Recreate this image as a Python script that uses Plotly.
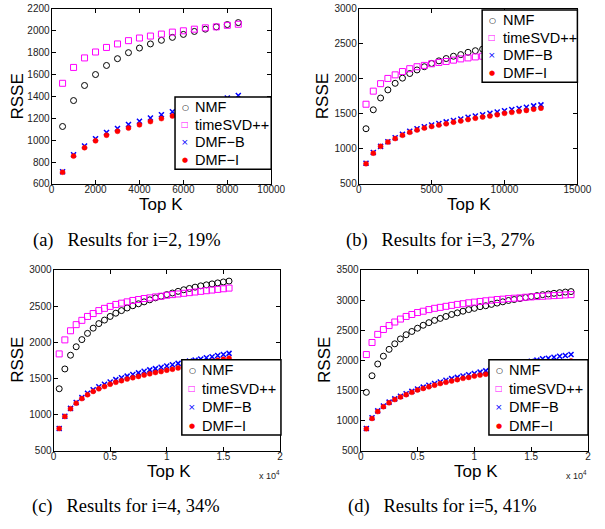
import plotly.graph_objects as go

# ---------------- data ----------------
topk_a = [500, 1000, 1500, 2000, 2500, 3000, 3500, 4000, 4500, 5000, 5500, 6000,
          6500, 7000, 7500, 8000, 8500]
nmf_a = [1125, 1362, 1500, 1600, 1683, 1745, 1800, 1842, 1880, 1913, 1940, 1967,
         1994, 2015, 2036, 2057, 2075]
tsvd_a = [1520, 1665, 1752, 1806, 1848, 1880, 1910, 1934, 1952, 1970, 1988, 2000,
          2015, 2027, 2036, 2050, 2060]
dmfb_a = [710, 866, 946, 1012, 1069, 1107, 1143, 1173, 1203, 1233, 1260, 1285,
          1310, 1333, 1357, 1385, 1408]
dmfi_a = [707, 854, 931, 994, 1045, 1081, 1110, 1140, 1170, 1197, 1221, 1245,
          1268, 1290, 1310, 1330, 1350]

topk_b = [500, 1000, 1500, 2000, 2500, 3000, 3500, 4000, 4500, 5000, 5500, 6000,
          6500, 7000, 7500, 8000, 8500, 9000, 9500, 10000, 10500, 11000, 11500,
          12000, 12500]
nmf_b = [1288, 1559, 1727, 1843, 1937, 2011, 2077, 2128, 2174, 2221, 2258, 2291,
         2324, 2347, 2380, 2403, 2426, 2445, 2465, 2485, 2502, 2520, 2537, 2552, 2567]
tsvd_b = [1638, 1825, 1932, 2007, 2058, 2105, 2146, 2174, 2193, 2216, 2235, 2249,
          2268, 2286, 2300, 2314, 2324, 2335, 2347, 2358, 2368, 2378, 2388, 2397, 2405]
dmfb_b = [794, 948, 1036, 1102, 1158, 1209, 1251, 1288, 1316, 1340, 1363, 1386,
          1405, 1428, 1451, 1470, 1489, 1508, 1526, 1545, 1564, 1577, 1596, 1615, 1629]
dmfi_b = [789, 939, 1036, 1097, 1148, 1195, 1237, 1270, 1298, 1321, 1340, 1358,
          1382, 1400, 1419, 1438, 1456, 1470, 1489, 1508, 1522, 1536, 1550, 1568, 1582]

topk_c = [500, 1000, 1500, 2000, 2500, 3000, 3500, 4000, 4500, 5000, 5500, 6000,
          6500, 7000, 7500, 8000, 8500, 9000, 9500, 10000, 10500, 11000, 11500,
          12000, 12500, 13000, 13500, 14000, 14500, 15000, 15500]
nmf_c = [1356, 1630, 1820, 1937, 2036, 2122, 2194, 2257, 2306, 2356, 2401, 2437,
         2473, 2504, 2531, 2558, 2586, 2613, 2635, 2658, 2680, 2703, 2725, 2743,
         2761, 2779, 2793, 2806, 2820, 2833, 2845]
tsvd_c = [1838, 2032, 2158, 2243, 2302, 2356, 2396, 2437, 2468, 2495, 2522, 2540,
          2558, 2577, 2590, 2604, 2613, 2626, 2635, 2649, 2658, 2667, 2676, 2685,
          2694, 2703, 2712, 2721, 2730, 2739, 2748]
dmfb_c = [806, 977, 1085, 1166, 1234, 1293, 1342, 1383, 1419, 1450, 1482, 1509,
          1531, 1554, 1576, 1599, 1617, 1635, 1653, 1671, 1689, 1707, 1722, 1738,
          1752, 1768, 1784, 1800, 1815, 1830, 1845]
dmfi_c = [806, 973, 1081, 1157, 1220, 1274, 1320, 1356, 1387, 1419, 1446, 1468,
          1491, 1509, 1527, 1545, 1563, 1581, 1594, 1613, 1626, 1645, 1663, 1680,
          1695, 1710, 1724, 1738, 1752, 1765, 1778]

topk_d = [500, 1000, 1500, 2000, 2500, 3000, 3500, 4000, 4500, 5000, 5500, 6000,
          6500, 7000, 7500, 8000, 8500, 9000, 9500, 10000, 10500, 11000, 11500,
          12000, 12500, 13000, 13500, 14000, 14500, 15000, 15500, 16000, 16500,
          17000, 17500, 18000, 18500]
nmf_d = [1468, 1743, 1938, 2068, 2181, 2273, 2354, 2424, 2478, 2532, 2581, 2624,
         2662, 2695, 2727, 2760, 2787, 2814, 2841, 2862, 2889, 2905, 2927, 2949,
         2970, 2992, 3008, 3024, 3041, 3057, 3073, 3089, 3100, 3111, 3122, 3132, 3140]
tsvd_d = [2095, 2295, 2430, 2511, 2576, 2635, 2684, 2727, 2760, 2792, 2814, 2841,
          2862, 2878, 2895, 2911, 2927, 2938, 2954, 2965, 2976, 2987, 2997, 3008,
          3014, 3024, 3030, 3035, 3046, 3051, 3057, 3062, 3068, 3073, 3078, 3084, 3089]
dmfb_d = [868, 1046, 1160, 1241, 1306, 1360, 1403, 1446, 1484, 1522, 1554, 1587,
          1614, 1641, 1668, 1695, 1716, 1738, 1760, 1781, 1803, 1824, 1845, 1866,
          1886, 1906, 1926, 1946, 1966, 1985, 2003, 2024, 2035, 2051, 2068, 2078, 2095]
dmfi_d = [862, 1035, 1149, 1230, 1295, 1349, 1392, 1430, 1468, 1506, 1533, 1560,
          1587, 1614, 1635, 1657, 1679, 1700, 1716, 1738, 1754, 1770, 1786, 1801,
          1816, 1831, 1846, 1861, 1876, 1891, 1905, 1919, 1933, 1947, 1961, 1975, 1989]

methods = ["NMF", "timeSVD++", "DMF\u2212B", "DMF\u2212I"]
captions = ["(a)   Results for i=2, 19%", "(b)   Results for i=3, 27%",
            "(c)   Results for i=4, 34%", "(d)   Results for i=5, 41%"]

# axis ticks per panel
yticks_a = [600, 800, 1000, 1200, 1400, 1600, 1800, 2000, 2200]
yticks_b = [500, 1000, 1500, 2000, 2500, 3000]
yticks_c = [500, 1000, 1500, 2000, 2500, 3000]
yticks_d = [500, 1000, 1500, 2000, 2500, 3000, 3500]
xticks_a = [0, 2000, 4000, 6000, 8000, 10000]
xticktext_a = ["0", "2000", "4000", "6000", "8000", "10000"]
xticks_b = [0, 5000, 10000, 15000]
xticktext_b = ["0", "5000", "10000", "15000"]
xticks_cd = [0, 5000, 10000, 15000, 20000]
xticktext_cd = ["0", "0.5", "1", "1.5", "2"]

# ---------------- styling ----------------
W, H = 605, 529
SANS = "Liberation Sans, Arial, Helvetica, sans-serif"
SERIF = "Liberation Serif, Times New Roman, serif"
GLYPH = "DejaVu Sans, sans-serif"

COLORS = ["black", "#ff00ff", "#0000ff", "#ff0000"]
marker_styles = [
    dict(symbol="circle-open", size=6, color=COLORS[0], line=dict(width=1, color=COLORS[0])),
    dict(symbol="square-open", size=6, color=COLORS[1], line=dict(width=1, color=COLORS[1])),
    dict(symbol="x-thin-open", size=5, color=COLORS[2], line=dict(width=1.5, color=COLORS[2])),
    dict(symbol="circle", size=5, color=COLORS[3], line=dict(width=0.5, color=COLORS[3])),
]
# small key glyphs used inside the boxed legends
key_glyphs = [("\u25cb", 8), ("\u25a1", 8), ("\u00d7", 9), ("\u25cf", 7)]


def px_x(p):
    return p / W


def px_y(p):
    return 1 - p / H


panels = [
    dict(topk=topk_a, series=[nmf_a, tsvd_a, dmfb_a, dmfi_a], x_px=(50, 276), y_px=(3, 182),
         xr=[0, 10000], yr=[600, 2200], xt=xticks_a, xtt=xticktext_a, yt=yticks_a,
         box=(177, 93, 276, 167), cap=(128, 240), exp=None, ylab=(14.5, 92.5), xlab=(163, 203)),
    dict(topk=topk_b, series=[nmf_b, tsvd_b, dmfb_b, dmfi_b], x_px=(366, 591), y_px=(3, 182),
         xr=[0, 15000], yr=[500, 3000], xt=xticks_b, xtt=xticktext_b, yt=yticks_b,
         box=(493, 4, 591, 78), cap=(450, 240), exp=None, ylab=(329, 92.5), xlab=(479, 203)),
    dict(topk=topk_c, series=[nmf_c, tsvd_c, dmfb_c, dmfi_c], x_px=(52, 285), y_px=(270, 455),
         xr=[0, 20000], yr=[500, 3000], xt=xticks_cd, xtt=xticktext_cd, yt=yticks_c,
         box=(184, 362, 286, 439), cap=(127, 512), exp=(274, 480), ylab=(15, 362.5), xlab=(171, 476)),
    dict(topk=topk_d, series=[nmf_d, tsvd_d, dmfb_d, dmfi_d], x_px=(368, 602), y_px=(270, 455),
         xr=[0, 20000], yr=[500, 3500], xt=xticks_cd, xtt=xticktext_cd, yt=yticks_d,
         box=(500, 362, 602, 439), cap=(452, 512), exp=(590, 480), ylab=(331, 362.5), xlab=(487, 476)),
]

fig = go.Figure()
annotations = []
shapes = []


def paper_text(text, x, y, size, family=SANS, color="black", angle=0, xanchor="center"):
    return dict(text=text, x=px_x(x), y=px_y(y), xref="paper", yref="paper",
                showarrow=False, xanchor=xanchor, yanchor="middle", textangle=angle,
                font=dict(family=family, size=size, color=color))


layout = dict(
    width=W, height=H,
    margin=dict(l=0, r=0, t=0, b=0),
    paper_bgcolor="white", plot_bgcolor="white",
    showlegend=False,
)

for i, p in enumerate(panels):
    n = "" if i == 0 else str(i + 1)
    xa, ya = "x" + n, "y" + n
    for name, vals, ms in zip(methods, p["series"], marker_styles):
        fig.add_trace(go.Scatter(
            x=p["topk"], y=vals, name=name, mode="markers",
            marker=ms, xaxis=xa, yaxis=ya, cliponaxis=True,
        ))
    axis_common = dict(
        showline=True, linecolor="black", linewidth=1, mirror="ticks",
        ticks="inside", ticklen=4, tickwidth=1, tickcolor="black",
        showgrid=False, zeroline=False,
        tickfont=dict(family=SANS, size=10, color="#222"),
    )
    layout["xaxis" + n] = dict(axis_common,
                               domain=[px_x(p["x_px"][0]), px_x(p["x_px"][1])],
                               range=p["xr"], tickvals=p["xt"], ticktext=p["xtt"],
                               ticklabelstandoff=-4, anchor=ya)
    layout["yaxis" + n] = dict(axis_common,
                               domain=[px_y(p["y_px"][1]), px_y(p["y_px"][0])],
                               range=p["yr"], tickvals=p["yt"],
                               ticklabelstandoff=-1, anchor=xa)

    # boxed legend (MATLAB style)
    x0, y0, x1, y1 = p["box"]
    shapes.append(dict(type="rect", xref="paper", yref="paper",
                       x0=px_x(x0), x1=px_x(x1), y0=px_y(y1), y1=px_y(y0),
                       fillcolor="white", line=dict(color="black", width=1.5), layer="above"))
    h = y1 - y0
    for k, (name, color, (glyph, gsize)) in enumerate(zip(methods, COLORS, key_glyphs)):
        yk = y0 + h * (0.14 + 0.245 * k)
        annotations.append(paper_text(glyph, x0 + 10.5, yk, gsize, family=GLYPH, color=color))
        annotations.append(paper_text(name, x0 + 19, yk, 14.5, xanchor="left"))

    # axis titles
    annotations.append(paper_text("RSSE", *p["ylab"], 17, angle=-90))
    annotations.append(paper_text("Top K", *p["xlab"], 17))
    # panel caption
    annotations.append(paper_text(captions[i], *p["cap"], 18.5, family=SERIF))
    if p["exp"] is not None:
        annotations.append(paper_text("x 10<sup>4</sup>", *p["exp"], 9, color="#222"))

layout["annotations"] = annotations
layout["shapes"] = shapes
fig.update_layout(**layout)
fig.write_html("out.html")
